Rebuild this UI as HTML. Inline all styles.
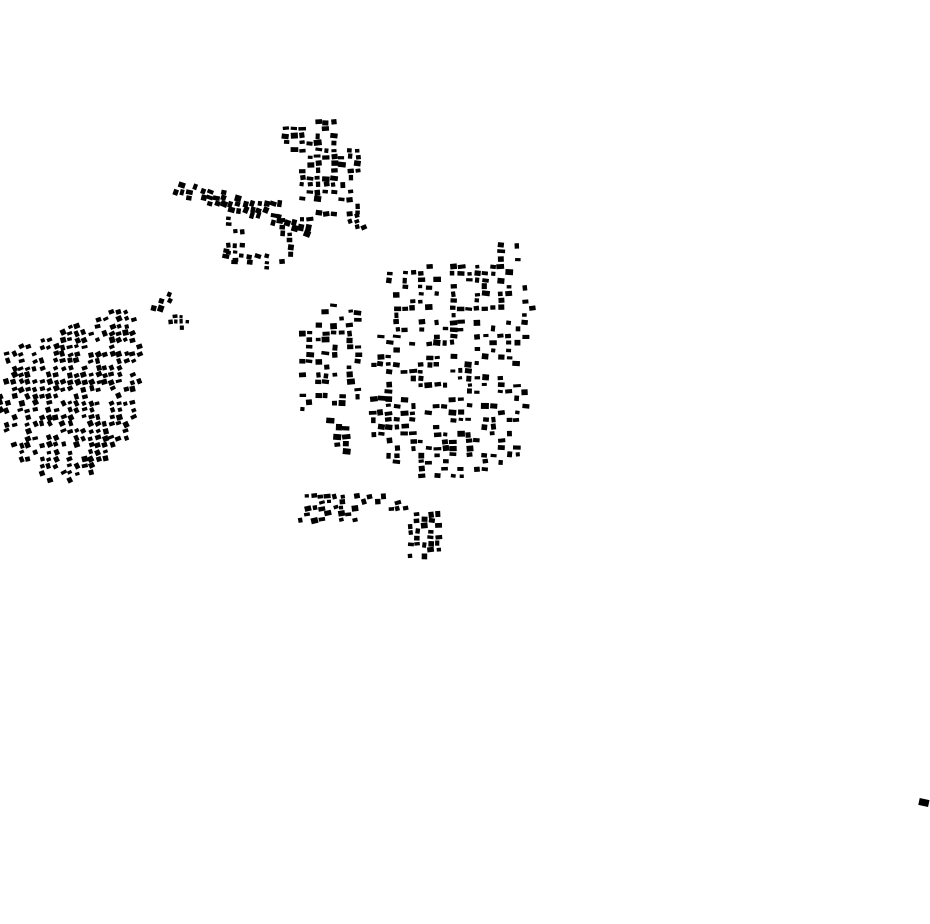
<!DOCTYPE html>
<html><head><meta charset="utf-8"><style>
html,body{margin:0;padding:0;background:#fff;width:930px;height:924px;overflow:hidden}
svg{display:block}
</style></head><body>
<svg id="s" width="930" height="924" viewBox="0 0 930 924" xmlns="http://www.w3.org/2000/svg">
<rect x="919" y="799" width="10" height="7" transform="rotate(12 924 802)" fill="#000"/>
<g id="g" fill="#000"></g>
</svg>
<script>
(function(){
var seed=12345;function r(){seed=(seed*16807)%2147483647;return (seed-1)/2147483646;}
function inside(p,x,y){var c=false;for(var i=0,j=p.length-1;i<p.length;j=i++){var xi=p[i][0],yi=p[i][1],xj=p[j][0],yj=p[j][1];if(((yi>y)!=(yj>y))&&(x<(xj-xi)*(y-yi)/(yj-yi)+xi))c=!c;}return c;}
var regions=[
 {p:[[278,120],[325,115],[360,135],[358,215],[295,222],[298,160],[280,142]],d:0.6,sx:8,sy:7,rot:0,w:[4,8],h:[3,6]},
 {p:[[175,180],[300,208],[312,236],[175,194]],d:0.8,sx:7,sy:6,rot:15,w:[4,7],h:[4,7]},
 {p:[[228,218],[243,218],[243,262],[228,262]],d:0.55,sx:7,sy:7,rot:0,w:[4,6],h:[3,5]},
 {p:[[276,220],[292,220],[292,262],[276,262]],d:0.65,sx:7,sy:7,rot:0,w:[4,6],h:[3,6]},
 {p:[[218,250],[285,255],[285,270],[218,262]],d:0.55,sx:8,sy:6,rot:10,w:[4,7],h:[3,5]},
 {p:[[350,215],[364,215],[364,228],[350,228]],d:0.8,sx:7,sy:6,rot:-20,w:[4,6],h:[3,5]},
 {p:[[0,355],[60,330],[130,305],[140,340],[140,380],[130,440],[90,475],[55,485],[20,460],[0,420]],d:0.75,sx:7,sy:7,rot:-20,w:[4,6],h:[3,6]},
 {p:[[145,294],[175,294],[175,315],[145,315]],d:0.6,sx:8,sy:7,rot:20,w:[4,7],h:[4,7]},
 {p:[[170,316],[190,316],[190,328],[170,328]],d:0.7,sx:6,sy:6,rot:0,w:[3,5],h:[3,5]},
 {p:[[385,268],[460,262],[495,245],[520,238],[535,310],[520,360],[530,420],[520,460],[465,478],[440,485],[405,470],[370,440],[365,380],[380,330],[395,300]],d:0.42,sx:8,sy:7,rot:0,w:[4,8],h:[3,6]},
 {p:[[302,305],[360,305],[360,415],[302,415]],d:0.45,sx:8,sy:7,rot:0,w:[4,8],h:[3,6]},
 {p:[[330,420],[352,420],[352,452],[330,452]],d:0.6,sx:8,sy:8,rot:0,w:[5,9],h:[4,7]},
 {p:[[300,495],[400,490],[410,515],[300,525]],d:0.55,sx:7,sy:6,rot:-10,w:[4,7],h:[3,6]},
 {p:[[410,514],[440,514],[440,558],[410,558]],d:0.7,sx:7,sy:6,rot:0,w:[4,7],h:[3,6]}
];
var out=[];
regions.forEach(function(R){
 var xs=R.p.map(function(a){return a[0]}),ys=R.p.map(function(a){return a[1]});
 var x0=Math.min.apply(0,xs),x1=Math.max.apply(0,xs),y0=Math.min.apply(0,ys),y1=Math.max.apply(0,ys);
 for(var y=y0;y<=y1;y+=R.sy){for(var x=x0;x<=x1;x+=R.sx){
  var cx=x+(r()-0.5)*2,cy=y+(r()-0.5)*2;
  if(!inside(R.p,cx,cy)||r()>R.d)continue;
  var w=R.w[0]+r()*(R.w[1]-R.w[0]),h=R.h[0]+r()*(R.h[1]-R.h[0]);
  var a=R.rot+(r()-0.5)*16;
  out.push('<rect x="'+(cx-w/2).toFixed(1)+'" y="'+(cy-h/2).toFixed(1)+'" width="'+w.toFixed(1)+'" height="'+h.toFixed(1)+'" transform="rotate('+a.toFixed(1)+' '+cx.toFixed(1)+' '+cy.toFixed(1)+')"/>');
 }}
});
document.getElementById('g').innerHTML=out.join('');
})();
</script>
</body></html>
